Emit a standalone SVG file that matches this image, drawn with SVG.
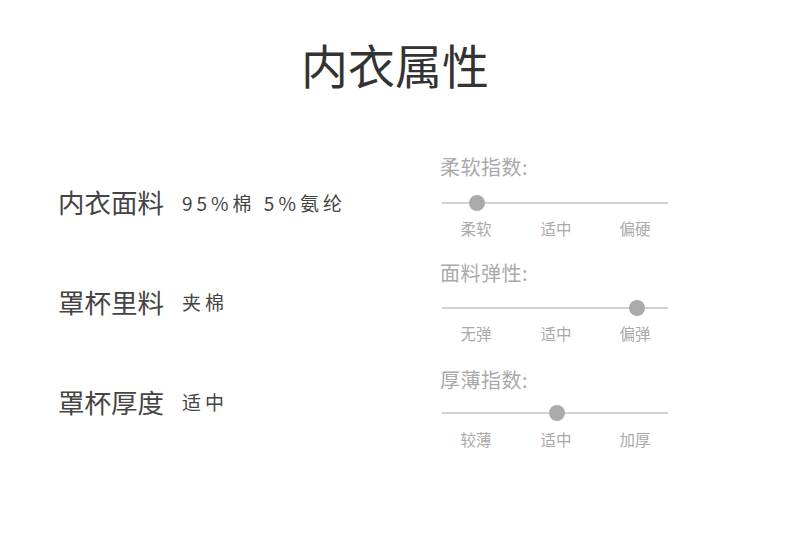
<svg xmlns="http://www.w3.org/2000/svg" width="790" height="541" viewBox="0 0 790 541">
<style>
text{font-family:"Noto Sans CJK SC","Noto Sans",sans-serif}
.title{font-size:47px;fill:#333;text-anchor:middle}
.lab{font-size:26.5px;fill:#444}
.val{font-size:19px;fill:#444;letter-spacing:4px}
.head{font-size:20px;fill:#aaa;letter-spacing:0.5px}
.tick{font-size:15.5px;fill:#aaa;text-anchor:middle}
.track{stroke:#a8a8a8;stroke-width:1.2}
.knob{fill:#aaa}
</style>
<rect width="790" height="541" fill="#fff"/>
<g id="title"><text class="title" x="395" y="84">内衣属性</text></g>
<g id="row1">
<text class="lab" x="58" y="213">内衣面料</text>
<text class="val" x="182" y="211">95%棉 5%氨纶</text>
</g>
<g id="row2">
<text class="lab" x="58" y="313">罩杯里料</text>
<text class="val" x="182" y="310">夹棉</text>
</g>
<g id="row3">
<text class="lab" x="58" y="413">罩杯厚度</text>
<text class="val" x="182" y="410">适中</text>
</g>
<g id="slider1">
<text class="head" x="440" y="175">柔软指数:</text>
<line class="track" x1="442" y1="203" x2="668" y2="203"/>
<circle class="knob" cx="477" cy="203" r="8"/>
<text class="tick" x="476" y="235">柔软</text>
<text class="tick" x="556" y="235">适中</text>
<text class="tick" x="635" y="235">偏硬</text>
</g>
<g id="slider2">
<text class="head" x="440" y="281">面料弹性:</text>
<line class="track" x1="442" y1="308" x2="668" y2="308"/>
<circle class="knob" cx="637" cy="308" r="8"/>
<text class="tick" x="476" y="340">无弹</text>
<text class="tick" x="556" y="340">适中</text>
<text class="tick" x="635" y="340">偏弹</text>
</g>
<g id="slider3">
<text class="head" x="440" y="388">厚薄指数:</text>
<line class="track" x1="442" y1="413" x2="668" y2="413"/>
<circle class="knob" cx="557" cy="413" r="8"/>
<text class="tick" x="476" y="446">较薄</text>
<text class="tick" x="556" y="446">适中</text>
<text class="tick" x="635" y="446">加厚</text>
</g>
</svg>
